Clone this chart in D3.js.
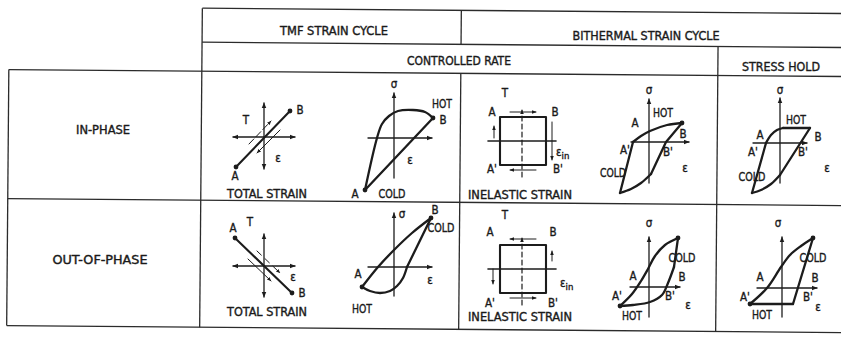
<!DOCTYPE html>
<html><head><meta charset="utf-8">
<script src="https://cdn.jsdelivr.net/npm/d3@7"></script>
<style>
html,body{margin:0;padding:0;background:#fff;}
svg{display:block;}
text{font-family:"Liberation Sans Narrow","DejaVu Sans Condensed","Arial Narrow",sans-serif;fill:#1a1a1a;font-size:11.5px;font-weight:normal;stroke:#1a1a1a;stroke-width:0.35px;}
</style></head><body>
<svg id="c" width="841" height="337"></svg>
<script>
// ---------- text ----------
const rowLabels = ["IN-PHASE", "OUT-OF-PHASE"];
const cycleHeaders = ["TMF STRAIN CYCLE", "BITHERMAL STRAIN CYCLE"];
const modeHeaders = ["CONTROLLED RATE", "STRESS HOLD"];
const strainCaptions = ["TOTAL STRAIN", "INELASTIC STRAIN"];

// ---------- TMF phasing: temperature (T) vs total strain, schematic units ----------
const tmfInStrainLine  = [[-28, -30], [26, 26]];
const tmfOutStrainLine = [[-29, 28], [28, -27]];
const tmfInSide  = [[[-15, -7], [7, 16]], [[16, 7], [-7, -16]]];
const tmfOutSide = [[[-7, 15], [16, -7]], [[-16, 7], [7, -15]]];

// ---------- stress (σ) vs strain (ε) loops, schematic units ----------
const tmfInUpper  = [[-29, -52], [-17, 0], [-12, 14], [-5, 22], [4, 27], [19, 28], [31, 26], [39, 20]];
const tmfInLower  = [[39, 20], [-29, -52]];
const tmfOutUpper = [[-32, -20], [-16, 0], [0, 17], [18, 34], [37, 49]];
const tmfOutRight = [[37, 49], [13, 0]];
const tmfOutLower = [[13, 0], [9, -11], [3, -19], [-4, -24], [-14, -26], [-24, -24], [-32, -20]];

const bitInLeft   = [[-29, -51], [-16, 0]];
const bitInUpper  = [[-16, 0], [-8, 6], [1, 11], [18, 17], [33, 19]];
const bitInRight  = [[33, 19], [17, 0], [2, -32]];
const bitInLower  = [[2, -32], [-8, -41], [-18, -47], [-29, -51]];

const holdInLeft  = [[-28, -50], [-14, 0]];
const holdInKnee  = [[-14, 0], [-9, 8], [-3, 13], [3, 15]];
const holdInTop   = [[3, 15], [30, 15]];
const holdInRight = [[30, 15], [0, -32]];
const holdInLower = [[0, -32], [-9, -41], [-19, -47], [-28, -50]];

const bitOutUpper = [[-29, -19], [-17, -7], [-8, 6], [-1, 18], [6, 31], [16, 42], [29, 49]];
const bitOutRight = [[29, 49], [25, 20]];
const bitOutLower = [[25, 20], [19, 4], [13, -8], [1, -15], [-16, -18], [-29, -19]];

const holdOutUpper = [[-32, -16], [-15, 0], [-1, 21], [8, 33], [19, 42], [31, 50]];
const holdOutRight = [[31, 50], [11, -16]];
const holdOutLower = [[11, -16], [-32, -16]];

// ---------- bithermal inelastic strain / temperature square ----------
const squareCorners = [[-23, 24], [23, 24], [23, -24], [-23, -24]];
const squareArrowsIn  = [[[-13, 29], [13, 29]], [[29, 19], [29, -19]], [[13, -29], [-13, -29]], [[-29, 3], [-29, 15]]];
const squareArrowsOut = [[[13, 30], [-13, 30]], [[29, 8], [29, 18]], [[-13, -29], [13, -29]], [[-30, 0], [-30, -15]]];

// ---------- labels: [text, strain, stress, width] ----------
const tmfInLabels   = [["T", -18, 17], ["B", 36, 27], ["ε", 14, -21], ["A", -29, -39]];
const tmfOutLabels  = [["A", -31, 38], ["T", -14, 44], ["ε", 29, -11], ["B", 38, -27]];
const tmfInLoopLabels  = [["σ", 0, 54], ["HOT", 48, 34, 20], ["B", 49, 18], ["ε", 16, -22], ["A", -39, -56], ["COLD", -2, -56, 27]];
const tmfOutLoopLabels = [["σ", 8, 53], ["B", 41, 57], ["COLD", 47, 39, 27], ["A", -36, -7], ["ε", 36, -13], ["HOT", -32, -42, 20]];
const sqInLabels  = [["T", -18, 48], ["A", -31, 29], ["B", 32, 29], ["A'", -31, -28], ["B'", 35, -28]];
const sqOutLabels = [["T", -18, 54], ["A", -33, 37], ["B", 30, 37], ["A'", -33, -34], ["B'", 30, -34]];
const bitInLabels  = [["σ", 0, 52], ["A", -14, 19], ["HOT", 14, 29, 20], ["B", 34, 8], ["A'", -24, -8], ["B'", 19, -10], ["COLD", -36, -31, 26], ["ε", 36, -26]];
const holdInLabels = [["σ", 0, 53], ["HOT", 16, 23, 20], ["A", -20, 8], ["B", 38, 6], ["A'", -27, -9], ["B'", 23, -9], ["COLD", -28, -34, 27], ["ε", 47, -25]];
const bitOutLabels  = [["σ", 0, 64], ["COLD", 33, 29, 27], ["B", 33, 10], ["A", -16, 11], ["A'", -32, -9], ["B'", 21, -9], ["ε", 39, -18], ["HOT", -17, -29, 20]];
const holdOutLabels = [["σ", -4, 65], ["COLD", 31, 30, 27], ["A", -22, 11], ["B", 33, 10], ["A'", -37, -9], ["B'", 26, -9], ["ε", 36, -19], ["HOT", -20, -27, 20]];

// ---------- drawing ----------
const INK = "#1c1c1c";
const svg = d3.select("#c");
svg.append("rect").attr("width", 841).attr("height", 337).attr("fill", "#fff");

const defs = svg.append("defs");
function marker(id, size) {
  defs.append("marker").attr("id", id).attr("viewBox", "0 0 10 10")
    .attr("refX", 9).attr("refY", 5).attr("markerWidth", size).attr("markerHeight", size)
    .attr("markerUnits", "userSpaceOnUse").attr("orient", "auto-start-reverse")
    .append("path").attr("d", "M0,1 L10,5 L0,9 z").attr("fill", INK);
}
marker("ah", 6);
marker("ahs", 4.5);

// table rules (the sheet sits very slightly turned)
const grid = svg.append("g").attr("transform", "rotate(0.48,420,170)")
  .attr("stroke", "#2b2b2b").attr("stroke-width", 1.3).attr("fill", "none");
[[201, 845, 10], [201, 845, 44], [8, 845, 73], [8, 845, 202], [8, 845, 329]]
  .forEach(([x1, x2, y]) => grid.append("line").attr("x1", x1).attr("x2", x2).attr("y1", y).attr("y2", y));
[[8, 73, 329], [201, 10, 329], [460, 10, 44], [460, 73, 329], [717, 44, 329]]
  .forEach(([x, y1, y2]) => grid.append("line").attr("x1", x).attr("x2", x).attr("y1", y1).attr("y2", y2));

function fitText(g, t, x, y, w) {
  const el = g.append("text").attr("x", x).attr("y", y)
    .attr("text-anchor", "middle").attr("dominant-baseline", "central").text(t);
  if (w) el.attr("textLength", w).attr("lengthAdjust", "spacingAndGlyphs");
  return el;
}
const heads = svg.append("g");
fitText(heads, cycleHeaders[0], 334, 31, 108);
fitText(heads, cycleHeaders[1], 646, 36, 147);
fitText(heads, modeHeaders[0], 459, 61, 104);
fitText(heads, modeHeaders[1], 781, 67, 78);
fitText(heads, rowLabels[0], 103, 130, 54);
fitText(heads, rowLabels[1], 100, 260, 95);

function cellScales(ox, oy) {
  return {
    x: d3.scaleLinear().domain([-60, 60]).range([ox - 60, ox + 60]),
    y: d3.scaleLinear().domain([-60, 60]).range([oy + 60, oy - 60])
  };
}
function path(g, s, pts, o = {}) {
  const gen = d3.line().x(d => s.x(d[0])).y(d => s.y(d[1])).curve(o.curve || d3.curveLinear);
  const p = g.append("path").attr("d", gen(pts)).attr("fill", "none").attr("stroke", INK)
    .attr("stroke-width", o.w || 2.3).attr("stroke-linejoin", "round").attr("stroke-linecap", "round");
  if (o.dash) p.attr("stroke-dasharray", o.dash);
  if (o.end) p.attr("marker-end", "url(#" + o.end + ")");
  if (o.start) p.attr("marker-start", "url(#" + o.start + ")");
  return p;
}
function dots(g, s, pts) {
  g.selectAll(null).data(pts).join("circle")
    .attr("cx", d => s.x(d[0])).attr("cy", d => s.y(d[1])).attr("r", 2.4).attr("fill", INK);
}
function labels(g, s, list) {
  list.forEach(([t, u, v, w]) => fitText(g, t, s.x(u), s.y(v), w));
}
function epsIn(g, s, u, v) {
  const t = g.append("text").attr("x", s.x(u)).attr("y", s.y(v))
    .attr("dominant-baseline", "central").attr("text-anchor", "start");
  t.append("tspan").text("ε");
  t.append("tspan").attr("dy", 3).attr("font-size", 9.5).text("in");
}
function axes(g, s, vx, hx, both) {
  // vx: [bottom, top] of σ/T axis, hx: [left, right] of ε axis
  path(g, s, [[0, vx[0]], [0, vx[1]]], { w: 1.3, end: "ah", start: both ? "ah" : null });
  path(g, s, [[hx[0], 0], [hx[1], 0]], { w: 1.3, end: "ah", start: both ? "ah" : null });
}
const CR = d3.curveCatmullRom.alpha(0.5);

// TMF total strain, in-phase
{
  const g = svg.append("g"), s = cellScales(264, 137);
  axes(g, s, [-32, 34], [-31, 31], true);
  path(g, s, tmfInStrainLine, { w: 2.1 });
  dots(g, s, tmfInStrainLine);
  path(g, s, tmfInSide[0], { w: 1, dash: "7,3", end: "ahs" });
  path(g, s, tmfInSide[1], { w: 1, end: "ahs" });
  labels(g, s, tmfInLabels);
  fitText(g, strainCaptions[0], s.x(3), s.y(-57), 80);
}
// TMF total strain, out-of-phase
{
  const g = svg.append("g"), s = cellScales(264, 266);
  axes(g, s, [-31, 32], [-31, 31], true);
  path(g, s, tmfOutStrainLine, { w: 2.1 });
  dots(g, s, tmfOutStrainLine);
  path(g, s, tmfOutSide[0], { w: 1, dash: "6,5", end: "ahs" });
  path(g, s, tmfOutSide[1], { w: 1, end: "ahs" });
  labels(g, s, tmfOutLabels);
  fitText(g, strainCaptions[0], s.x(3), s.y(-46), 80);
}
// TMF loop, in-phase
{
  const g = svg.append("g"), s = cellScales(394, 138);
  axes(g, s, [-40, 45], [-26, 38], false);
  path(g, s, tmfInUpper, { curve: CR });
  path(g, s, tmfInLower);
  dots(g, s, [tmfInUpper[0], tmfInLower[0]]);
  labels(g, s, tmfInLoopLabels);
}
// TMF loop, out-of-phase
{
  const g = svg.append("g"), s = cellScales(394, 267);
  axes(g, s, [-29, 54], [-26, 38], false);
  path(g, s, tmfOutUpper, { curve: CR });
  path(g, s, tmfOutRight);
  path(g, s, tmfOutLower, { curve: CR });
  dots(g, s, [tmfOutUpper[0], tmfOutRight[0]]);
  labels(g, s, tmfOutLoopLabels);
}
// bithermal squares
function square(oy, arrows, lab, capV) {
  const g = svg.append("g"), s = cellScales(523, oy);
  const sq = squareCorners.concat([squareCorners[0]]);
  path(g, s, sq, { w: 2.1 });
  path(g, s, [[-35, 0], [33, 0]], { w: 1.6 });
  path(g, s, [[-1, -36], [-1, 31]], { w: 1.2, dash: "5,3", end: "ahs" });
  arrows.forEach(a => path(g, s, a, { w: 1, end: "ahs" }));
  labels(g, s, lab);
  fitText(g, strainCaptions[1], s.x(-3), s.y(capV), 104);
  return { g, s };
}
{
  const { g, s } = square(141, squareArrowsIn, sqInLabels, -54);
  epsIn(g, s, 33, -11);
}
{
  const { g, s } = square(269, squareArrowsOut, sqOutLabels, -48);
  epsIn(g, s, 37, -14);
}
// bithermal loop, in-phase
{
  const g = svg.append("g"), s = cellScales(649, 142);
  axes(g, s, [-41, 43], [-18, 40], false);
  path(g, s, bitInLeft);
  path(g, s, bitInUpper, { curve: CR });
  path(g, s, bitInRight);
  path(g, s, bitInLower, { curve: CR });
  dots(g, s, [bitInRight[0]]);
  labels(g, s, bitInLabels);
}
// stress hold, in-phase
{
  const g = svg.append("g"), s = cellScales(780, 143);
  axes(g, s, [-40, 45], [-27, 27], false);
  path(g, s, holdInLeft);
  path(g, s, holdInKnee, { curve: CR });
  path(g, s, holdInTop);
  path(g, s, holdInRight);
  path(g, s, holdInLower, { curve: CR });
  labels(g, s, holdInLabels);
}
// bithermal loop, out-of-phase
{
  const g = svg.append("g"), s = cellScales(649, 287);
  axes(g, s, [-30, 50], [-19, 31], false);
  path(g, s, bitOutUpper, { curve: CR });
  path(g, s, bitOutRight);
  path(g, s, bitOutLower, { curve: CR });
  dots(g, s, [bitOutUpper[0], bitOutRight[0]]);
  labels(g, s, bitOutLabels);
}
// stress hold, out-of-phase
{
  const g = svg.append("g"), s = cellScales(782, 288);
  axes(g, s, [-29, 51], [-25, 35], false);
  path(g, s, holdOutUpper, { curve: CR });
  path(g, s, holdOutRight);
  path(g, s, holdOutLower);
  dots(g, s, [holdOutUpper[0], holdOutRight[0]]);
  labels(g, s, holdOutLabels);
}
</script>
</body></html>
